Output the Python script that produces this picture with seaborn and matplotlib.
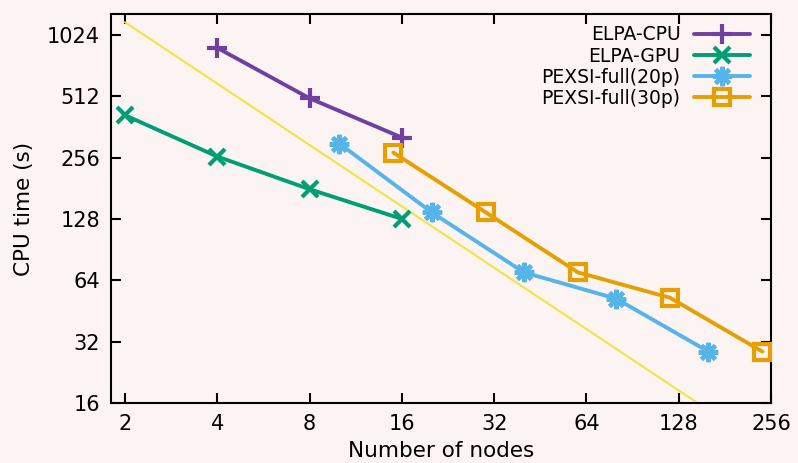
import matplotlib
matplotlib.use("Agg")
import matplotlib.pyplot as plt
import seaborn as sns
import pandas as pd

# Data
elpa_cpu_x = [4, 8, 16]
elpa_cpu_y = [884, 500, 321]
elpa_gpu_x = [2, 4, 8, 16]
elpa_gpu_y = [413, 259, 179, 128]
pexsi20_x = [10, 20, 40, 80, 160]
pexsi20_y = [300, 138, 70, 52, 28.6]
pexsi30_x = [15, 30, 60, 120, 240]
pexsi30_y = [271, 138, 70, 52.5, 28.6]
ideal_x = [2, 256]
ideal_y = [1180, 9.22]

x_ticks = [2, 4, 8, 16, 32, 64, 128, 256]
y_ticks = [16, 32, 64, 128, 256, 512, 1024]

bg = "#fcf3f3"
sns.set_theme(style="ticks")
plt.rcParams["font.family"] = ["DejaVu Sans"]
plt.rcParams["text.color"] = "black"
plt.rcParams["axes.labelcolor"] = "black"

fig = plt.figure(figsize=(7.98, 4.63), dpi=100, facecolor=bg)
ax = fig.add_axes([111/798, 1-403/463, (771-111)/798, (403-14)/463])
ax.set_facecolor(bg)

series = [
    ("ELPA-CPU", elpa_cpu_x, elpa_cpu_y, "#7040a0", "+", 15, dict()),
    ("ELPA-GPU", elpa_gpu_x, elpa_gpu_y, "#009e73", "x", 12, dict()),
    ("PEXSI-full(20p)", pexsi20_x, pexsi20_y, "#56b4e9", (8, 2, 0), 14, dict()),
    ("PEXSI-full(30p)", pexsi30_x, pexsi30_y, "#e69f00", "s", 12, dict(markerfacecolor="none")),
]

sns.lineplot(x=ideal_x, y=ideal_y, ax=ax, color="#f0e442", linewidth=1.5, zorder=1)

for name, xs, ys, col, mk, ms, extra in series:
    df = pd.DataFrame({"x": xs, "y": ys})
    sns.lineplot(data=df, x="x", y="y", ax=ax, color=col, linewidth=2.8,
                 marker=mk, markersize=ms, markeredgewidth=3.0,
                 markeredgecolor=col, label=name, zorder=3, **extra)

ax.set_xscale("log", base=2)
ax.set_yscale("log", base=2)
ax.set_xlim(1.8, 256)
ax.set_ylim(16, 1296)
ax.set_xticks(x_ticks)
ax.set_xticklabels([str(t) for t in x_ticks])
ax.set_yticks(y_ticks)
ax.set_yticklabels([str(t) for t in y_ticks])
ax.minorticks_off()
ax.tick_params(axis="both", which="major", direction="in", length=7, width=1.5,
               top=True, right=True, labelsize=15, colors="black", pad=8)
for s in ax.spines.values():
    s.set_visible(True)
    s.set_linewidth(1.5)
    s.set_color("black")

ax.set_xlabel("Number of nodes", fontsize=15.5, labelpad=5)
ax.set_ylabel("CPU time (s)", fontsize=15.5, labelpad=9)

leg = ax.legend(loc="upper right", frameon=False, markerfirst=False, fontsize=13.5,
                handlelength=3.0, handletextpad=0.7, labelspacing=0.12,
                borderaxespad=0.2, bbox_to_anchor=(0.985, 1.0))

fig.savefig("out.png", dpi=100, facecolor=bg)
